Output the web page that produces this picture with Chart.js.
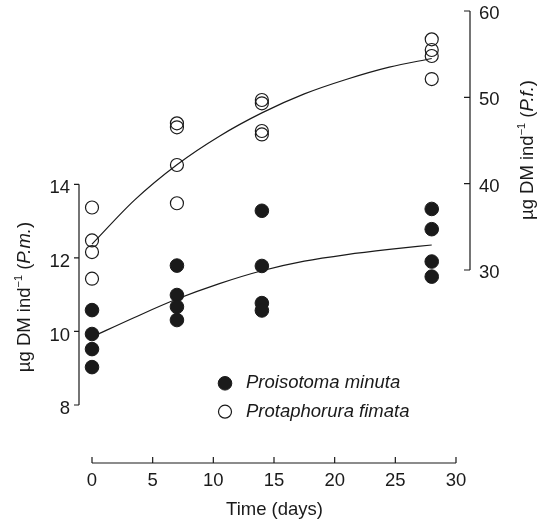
<!DOCTYPE html>
<html><head><meta charset="utf-8">
<script src="https://cdn.jsdelivr.net/npm/chart.js@4.4.0/dist/chart.umd.min.js"></script>
<style>html,body{margin:0;padding:0;background:#fff;}canvas{display:block;}</style>
</head><body>
<canvas id="c" width="541" height="525"></canvas>
<script>
// ---- data ----
const sampleDays = [0,0,0,0, 7,7,7,7, 14,14,14,14, 28,28,28,28];
const pmMass = [10.58, 9.93, 9.52, 9.03, 11.79, 10.99, 10.67, 10.31, 13.28, 11.78, 10.77, 10.57, 13.33, 12.78, 11.90, 11.49];
const pfMass = [37.24, 33.42, 32.08, 28.99, 46.99, 46.53, 42.16, 37.73, 49.69, 49.31, 46.10, 45.70, 56.72, 55.48, 54.79, 52.12];
const fitDays = [0, 3.5, 7, 10.5, 14, 17.5, 21, 24.5, 28];
const pmFit = [9.85, 10.38, 10.88, 11.30, 11.65, 11.91, 12.09, 12.23, 12.35];
const pfFit = [33.0, 38.1, 42.2, 45.5, 48.2, 50.4, 52.1, 53.5, 54.5];
const xTicks = [0, 5, 10, 15, 20, 25, 30];
const pmTicks = [8, 10, 12, 14];
const pfTicks = [30, 40, 50, 60];
const legendLabels = ['Proisotoma minuta', 'Protaphorura fimata'];
const xTitle = 'Time (days)';
const pmTitle = [['µg DM ind', 'n'], ['−1', 's'], [' (', 'n'], ['P.m.', 'i'], [')', 'n']];
const pfTitle = [['µg DM ind', 'n'], ['−1', 's'], [' (', 'n'], ['P.f.', 'i'], [')', 'n']];

const INK = '#1a1a1a';
const FAM = '"Liberation Sans", Arial, Helvetica, sans-serif';
const FS = 18.5;

const pts = (xs, ys) => xs.map((x, i) => ({x: x, y: ys[i]}));

function drawMixed(ctx, segs, cx, cy, rot) {
  const fonts = {n: FS + 'px ' + FAM, i: 'italic ' + FS + 'px ' + FAM, s: '11px ' + FAM};
  let w = 0;
  segs.forEach(s => { ctx.font = fonts[s[1]]; w += ctx.measureText(s[0]).width; });
  ctx.save();
  ctx.translate(cx, cy);
  ctx.rotate(rot);
  ctx.fillStyle = INK;
  ctx.textBaseline = 'middle';
  ctx.textAlign = 'left';
  let x = -w / 2;
  segs.forEach(s => {
    ctx.font = fonts[s[1]];
    ctx.fillText(s[0], x, s[1] === 's' ? -6 : 0);
    x += ctx.measureText(s[0]).width;
  });
  ctx.restore();
}

const axesPlugin = {
  id: 'axesPlugin',
  beforeDatasetsDraw(chart) {
    const ctx = chart.ctx;
    const sx = chart.scales.x, sl = chart.scales.yL, sr = chart.scales.yR;
    const ca = chart.chartArea;
    ctx.save();
    ctx.strokeStyle = INK;
    ctx.lineWidth = 1.2;
    ctx.beginPath();
    const lx = ca.left;
    ctx.moveTo(lx, sl.getPixelForValue(pmTicks[0]));
    ctx.lineTo(lx, sl.getPixelForValue(pmTicks[pmTicks.length - 1]));
    pmTicks.forEach(v => { const y = sl.getPixelForValue(v); ctx.moveTo(lx - 5, y); ctx.lineTo(lx, y); });
    const rx = ca.right;
    ctx.moveTo(rx, sr.getPixelForValue(pfTicks[0]));
    ctx.lineTo(rx, sr.getPixelForValue(pfTicks[pfTicks.length - 1]));
    pfTicks.forEach(v => { const y = sr.getPixelForValue(v); ctx.moveTo(rx - 6, y); ctx.lineTo(rx, y); });
    const by = ca.bottom;
    ctx.moveTo(sx.getPixelForValue(xTicks[0]), by);
    ctx.lineTo(sx.getPixelForValue(xTicks[xTicks.length - 1]), by);
    xTicks.forEach(v => { const x = sx.getPixelForValue(v); ctx.moveTo(x, by); ctx.lineTo(x, by - 6); });
    ctx.stroke();
    ctx.restore();
  },
  afterDraw(chart) {
    const ctx = chart.ctx;
    drawMixed(ctx, pmTitle, 25, 297, -Math.PI / 2);
    drawMixed(ctx, pfTitle, 528, 150, -Math.PI / 2);
    const items = [chart.data.datasets[0], chart.data.datasets[1]];
    const lx = 225, ly = [383.3, 411.7];
    items.forEach((ds, i) => {
      ctx.save();
      ctx.beginPath();
      ctx.arc(lx, ly[i], ds.pointRadius, 0, Math.PI * 2);
      if (ds.backgroundColor !== 'rgba(0,0,0,0)') { ctx.fillStyle = ds.backgroundColor; ctx.fill(); }
      ctx.lineWidth = ds.borderWidth;
      ctx.strokeStyle = ds.borderColor;
      ctx.stroke();
      ctx.fillStyle = INK;
      ctx.font = 'italic ' + FS + 'px ' + FAM;
      ctx.textBaseline = 'middle';
      ctx.textAlign = 'left';
      ctx.fillText(legendLabels[i], 246, ly[i]);
      ctx.restore();
    });
  }
};

function zeroPad(s) { s.paddingTop = 0; s.paddingBottom = 0; s.paddingLeft = 0; s.paddingRight = 0; }

new Chart(document.getElementById('c'), {
  type: 'scatter',
  data: {
    datasets: [
      {label: legendLabels[0], data: pts(sampleDays, pmMass), yAxisID: 'yL',
       pointRadius: 6.8, backgroundColor: INK, borderColor: INK, borderWidth: 1, pointHoverRadius: 6.8},
      {label: legendLabels[1], data: pts(sampleDays, pfMass), yAxisID: 'yR',
       pointRadius: 6.5, backgroundColor: 'rgba(0,0,0,0)', borderColor: INK, borderWidth: 1.2, pointHoverRadius: 6.5},
      {label: 'pm fit', data: pts(fitDays, pmFit), yAxisID: 'yL', showLine: true, pointRadius: 0,
       borderColor: INK, borderWidth: 1.2, cubicInterpolationMode: 'monotone', fill: false},
      {label: 'pf fit', data: pts(fitDays, pfFit), yAxisID: 'yR', showLine: true, pointRadius: 0,
       borderColor: INK, borderWidth: 1.2, cubicInterpolationMode: 'monotone', fill: false}
    ]
  },
  options: {
    responsive: false,
    animation: false,
    devicePixelRatio: 1,
    layout: {padding: {top: 11, left: 0, right: 0, bottom: 0}},
    plugins: {legend: {display: false}, tooltip: {enabled: false}},
    events: [],
    scales: {
      x: {
        type: 'linear', position: 'bottom', min: -1.0714, max: 31.154, bounds: 'data',
        grid: {display: false, drawTicks: false}, border: {display: false},
        afterBuildTicks: s => { s.ticks = xTicks.map(v => ({value: v})); },
        afterFit: s => { s.height = 62; zeroPad(s); },
        ticks: {color: INK, font: {family: FAM, size: FS}, padding: 7, maxRotation: 0, autoSkip: false},
        title: {display: true, text: xTitle, color: INK, font: {family: FAM, size: FS}, padding: {top: 0, bottom: 4}}
      },
      yL: {
        type: 'linear', position: 'left', min: 6.4232, max: 18.7114, bounds: 'data',
        grid: {display: false, drawTicks: false}, border: {display: false},
        afterBuildTicks: s => { s.ticks = pmTicks.map(v => ({value: v})); },
        afterFit: s => { s.width = 79; zeroPad(s); },
        ticks: {color: INK, font: {family: FAM, size: FS}, padding: 9, labelOffset: 4, autoSkip: false}
      },
      yR: {
        type: 'linear', position: 'right', min: 7.645, max: 60, bounds: 'data',
        grid: {display: false, drawTicks: false}, border: {display: false},
        afterBuildTicks: s => { s.ticks = pfTicks.map(v => ({value: v})); },
        afterFit: s => { s.width = 71; zeroPad(s); },
        ticks: {color: INK, font: {family: FAM, size: FS}, padding: 9, labelOffset: 3, autoSkip: false}
      }
    }
  },
  plugins: [axesPlugin]
});
</script>
</body></html>
